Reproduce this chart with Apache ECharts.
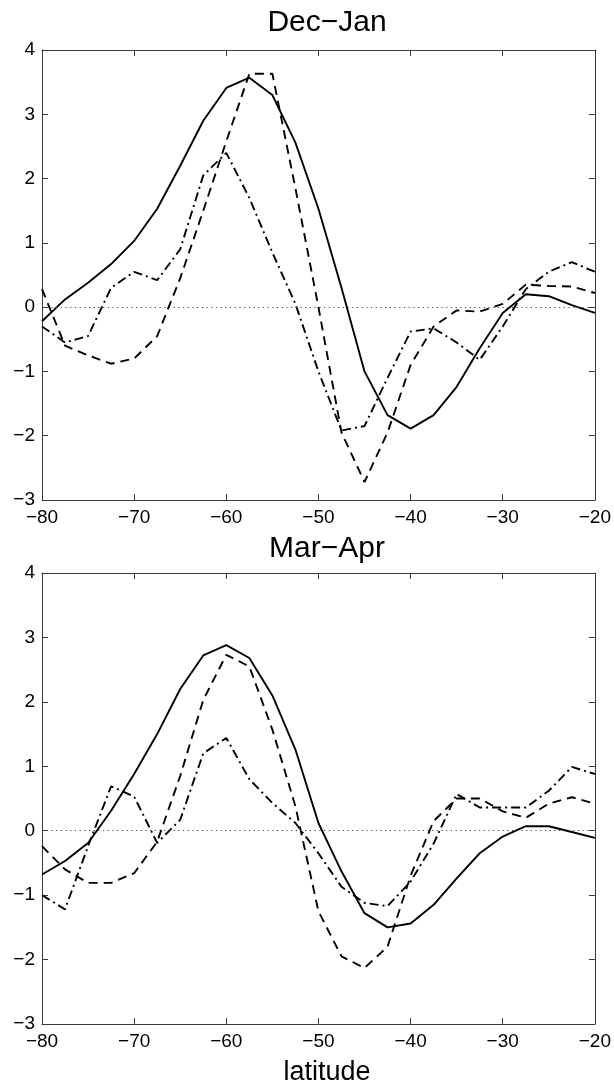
<!DOCTYPE html>
<html>
<head>
<meta charset="utf-8">
<script src="https://cdn.jsdelivr.net/npm/echarts@6/dist/echarts.min.js"></script>
<style>
html,body{margin:0;padding:0;background:#fff;}
#chart{width:614px;height:1082px;}
</style>
</head>
<body>
<div id="chart"></div>
<script>
// latitude grid (degrees)
const lat = [-80, -77.5, -75, -72.5, -70, -67.5, -65, -62.5, -60, -57.5, -55, -52.5, -50,
             -47.5, -45, -42.5, -40, -37.5, -35, -32.5, -30, -27.5, -25, -22.5, -20];

// Dec-Jan panel
const djSolid   = [-0.22, 0.12, 0.38, 0.67, 1.03, 1.53, 2.2, 2.9, 3.41, 3.57, 3.30, 2.56, 1.53,
                   0.3, -1.0, -1.68, -1.89, -1.68, -1.24, -0.64, -0.09, 0.2, 0.17, 0.03, -0.09];
const djDashed  = [0.28, -0.6, -0.75, -0.88, -0.8, -0.45, 0.45, 1.5, 2.58, 3.63, 3.63, 1.85, 0.0,
                   -1.95, -2.72, -1.95, -0.9, -0.3, -0.05, -0.07, 0.05, 0.35, 0.33, 0.32, 0.22];
const djDashDot = [-0.3, -0.55, -0.45, 0.3, 0.55, 0.42, 0.9, 2.05, 2.4, 1.7, 0.85, 0.05, -1.0,
                   -1.92, -1.85, -1.1, -0.38, -0.33, -0.55, -0.82, -0.3, 0.28, 0.55, 0.7, 0.55];

// Mar-Apr panel
const maSolid   = [-0.68, -0.47, -0.19, 0.31, 0.88, 1.5, 2.2, 2.72, 2.88, 2.68, 2.1, 1.26, 0.12,
                   -0.63, -1.28, -1.5, -1.44, -1.15, -0.74, -0.35, -0.09, 0.07, 0.07, -0.02, -0.11];
const maDashed  = [-0.24, -0.6, -0.81, -0.81, -0.66, -0.17, 0.85, 2.03, 2.73, 2.55, 1.57, 0.38, -1.25,
                   -1.95, -2.13, -1.8, -0.7, 0.15, 0.5, 0.5, 0.3, 0.2, 0.42, 0.52, 0.42];
const maDashDot = [-1.0, -1.22, -0.24, 0.69, 0.53, -0.19, 0.17, 1.2, 1.44, 0.8, 0.43, 0.12, -0.35,
                   -0.87, -1.12, -1.17, -0.79, -0.2, 0.57, 0.36, 0.36, 0.36, 0.62, 0.99, 0.88];

// tick values
const xTicks = [-80, -70, -60, -50, -40, -30, -20];
const yTicks = [-3, -2, -1, 0, 1, 2, 3, 4];
const titles = ['Dec\u2212Jan', 'Mar\u2212Apr'];
const xName = 'latitude';

const FONT = '"Liberation Sans", Arial, sans-serif';
const minus = v => String(v).replace('-', '\u2212');
const pairs = ys => lat.map((x, i) => [x, ys[i]]);

const grids = [
  {left: 42, right: 11, top: 50, height: 450},
  {left: 42, right: 11, top: 573, height: 451}
];

const axisLineStyle = {color: '#3a3a3a', width: 1};
function xAxes(gi) {
  const base = {
    type: 'value', gridIndex: gi, min: xTicks[0], max: xTicks[xTicks.length - 1], interval: 10,
    splitLine: {show: false},
    axisLine: {show: true, onZero: false, lineStyle: axisLineStyle},
    axisTick: {show: true, inside: true, length: 6, lineStyle: axisLineStyle}
  };
  return [
    Object.assign({}, base, {position: 'bottom',
      axisLabel: {show: true, color: '#000', fontSize: 19, fontFamily: FONT, margin: 8,
                  formatter: v => minus(v)}}),
    Object.assign({}, base, {position: 'top', axisLabel: {show: false}})
  ];
}
function yAxes(gi) {
  const base = {
    type: 'value', gridIndex: gi, min: yTicks[0], max: yTicks[yTicks.length - 1], interval: 1,
    splitLine: {show: false},
    axisLine: {show: true, onZero: false, lineStyle: axisLineStyle},
    axisTick: {show: true, inside: true, length: 6, lineStyle: axisLineStyle}
  };
  return [
    Object.assign({}, base, {position: 'left',
      axisLabel: {show: true, color: '#000', fontSize: 19, fontFamily: FONT, margin: 7,
                  formatter: v => minus(v)}}),
    Object.assign({}, base, {position: 'right', axisLabel: {show: false}})
  ];
}

function lineSeries(data, type, xi, yi, withZero) {
  const s = {
    type: 'line', data: pairs(data), xAxisIndex: xi, yAxisIndex: yi,
    symbol: 'none', smooth: false, animation: false,
    lineStyle: {color: '#000', width: 1.9, type: type, cap: 'butt'},
    z: 3
  };
  if (withZero) {
    s.markLine = {
      silent: true, symbol: 'none', label: {show: false},
      lineStyle: {color: '#444', width: 1, type: [1.2, 3.5]},
      data: [{yAxis: 0}], animation: false
    };
  }
  return s;
}

const dash = [9, 6];
const dashDot = [9, 4, 2, 4];

const option = {
  backgroundColor: '#fff',
  animation: false,
  title: [
    {text: titles[0], left: 322, top: 3, textAlign: 'center',
     textStyle: {fontSize: 30, fontWeight: 'normal', color: '#000', fontFamily: FONT}},
    {text: titles[1], left: 322, top: 529, textAlign: 'center',
     textStyle: {fontSize: 30, fontWeight: 'normal', color: '#000', fontFamily: FONT}},
    {text: xName, left: 322, top: 1054, textAlign: 'center',
     textStyle: {fontSize: 27, fontWeight: 'normal', color: '#000', fontFamily: FONT}}
  ],
  grid: grids,
  xAxis: xAxes(0).concat(xAxes(1)),
  yAxis: yAxes(0).concat(yAxes(1)),
  series: [
    lineSeries(djSolid, 'solid', 0, 0, true),
    lineSeries(djDashed, dash, 0, 0, false),
    lineSeries(djDashDot, dashDot, 0, 0, false),
    lineSeries(maSolid, 'solid', 2, 2, true),
    lineSeries(maDashed, dash, 2, 2, false),
    lineSeries(maDashDot, dashDot, 2, 2, false)
  ]
};

const chart = echarts.init(document.getElementById('chart'), null, {renderer: 'canvas'});
chart.setOption(option);
</script>
</body>
</html>
